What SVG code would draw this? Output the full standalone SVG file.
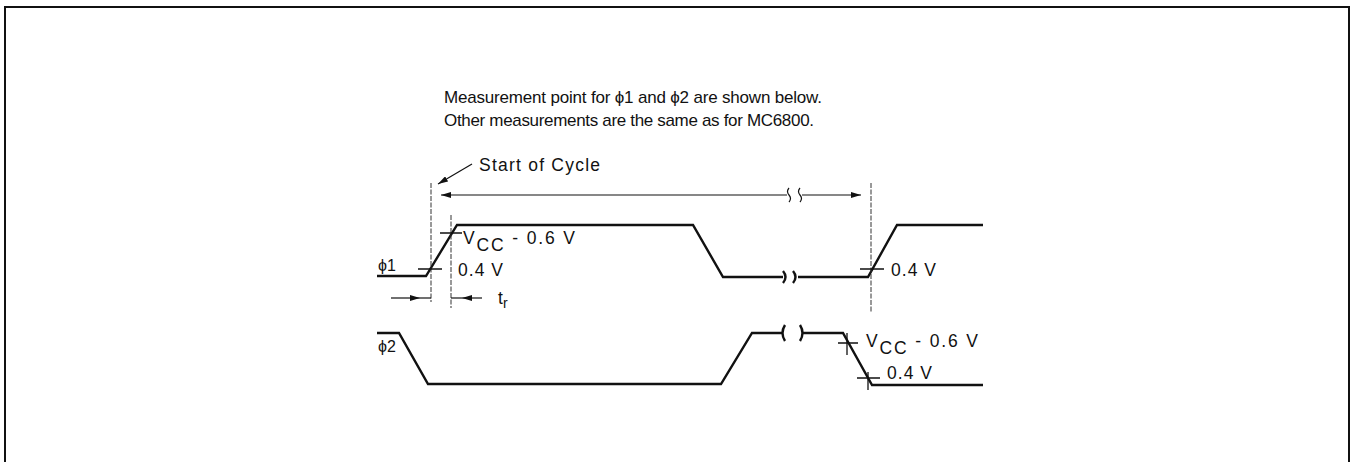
<svg xmlns="http://www.w3.org/2000/svg" width="1356" height="462" viewBox="0 0 1356 462">
<defs>
<style>
.t{font-family:"Liberation Sans",Arial,sans-serif;font-size:17.5px;fill:#111}
.p{font-family:"Liberation Sans",Arial,sans-serif;font-size:16px;fill:#111}
.h{font-family:"Liberation Sans",Arial,sans-serif;font-size:17px;fill:#111}
.w{fill:none;stroke:#111;stroke-width:2.4;stroke-linejoin:miter}
.d{fill:none;stroke:#333;stroke-width:1;stroke-dasharray:5 1.5}
.k{fill:none;stroke:#111;stroke-width:1.3}
.a{fill:none;stroke:#111;stroke-width:1.2}
</style>
<marker id="ah" viewBox="0 0 10 6" refX="10" refY="3" markerWidth="10" markerHeight="6" markerUnits="userSpaceOnUse" orient="auto">
<path d="M0,0 L10,3 L0,6 Z" fill="#111"/>
</marker>
</defs>
<rect width="1356" height="462" fill="#fff"/>
<path d="M5,470 V7 H1349 V470" fill="none" stroke="#111" stroke-width="2"/>

<g id="header">
<text class="h" x="444" y="103" textLength="378" lengthAdjust="spacing">Measurement point for ϕ1 and ϕ2 are shown below.</text>
<text class="h" x="444" y="126" textLength="370" lengthAdjust="spacing">Other measurements are the same as for MC6800.</text>
</g>

<g id="labels">
<text class="p" x="378" y="271">ϕ1</text>
<text class="p" x="378" y="352">ϕ2</text>
<text class="t" x="479" y="171" textLength="121" lengthAdjust="spacing">Start of Cycle</text>
</g>

<g id="phi1-wave">
<path class="w" d="M377,276 H426 L457,225 H693 L723,277 H783"/>
<path class="w" d="M783,271 q5,6 0,12 M793,271 q5,6 0,12"/>
<path class="w" d="M798,277 H868 L897,225 H983"/>
</g>

<g id="phi2-wave">
<path class="w" d="M377,333 H399 L428,384 H721 L752,333 H783"/>
<path class="w" d="M785,325 q-5,8 0,16 M800,325 q5,8 0,16"/>
<path class="w" d="M802,333 H843 L872,385 H983"/>
</g>

<g id="connectors">
<line class="d" x1="431" y1="183" x2="431" y2="302"/>
<line class="d" x1="451" y1="215" x2="451" y2="308"/>
<line class="d" x1="871" y1="183" x2="871" y2="312"/>
<line class="a" x1="787" y1="195" x2="441" y2="195" marker-end="url(#ah)"/>
<line class="a" x1="802" y1="195" x2="861" y2="195" marker-end="url(#ah)"/>
<path class="a" d="M789,188 q-3,3.5 0,7 q3,3.5 0,7 M800,188 q-3,3.5 0,7 q3,3.5 0,7"/>
<line class="a" x1="472" y1="164" x2="438" y2="184" marker-end="url(#ah)"/>
<line class="a" x1="391" y1="298" x2="420" y2="298" marker-end="url(#ah)"/>
<line class="a" x1="482" y1="298" x2="462" y2="298" marker-end="url(#ah)"/>
<line class="a" x1="420" y1="298" x2="431" y2="298"/>
<line class="a" x1="462" y1="298" x2="451" y2="298"/>
</g>

<g id="ticks">
<path class="k" d="M418,269 H442 M440,233 H462 M860,269 H884 M838,343 H858 M847,333 V355 M857,378 H880 M868,372 V390"/>
</g>

<g id="phi1-values">
<text class="t" x="463" y="244" textLength="112" lengthAdjust="spacing">V<tspan dy="7">CC</tspan><tspan dy="-7"> - 0.6 V</tspan></text>
<text class="t" x="458" y="276" textLength="45" lengthAdjust="spacing">0.4 V</text>
<text class="t" x="498" y="304">t<tspan font-size="14" dy="4">r</tspan></text>
<text class="t" x="891" y="276" textLength="45" lengthAdjust="spacing">0.4 V</text>
</g>

<g id="phi2-values">
<text class="t" x="866" y="347" textLength="112" lengthAdjust="spacing">V<tspan dy="7">CC</tspan><tspan dy="-7"> - 0.6 V</tspan></text>
<text class="t" x="887" y="379" textLength="45" lengthAdjust="spacing">0.4 V</text>
</g>
</svg>
